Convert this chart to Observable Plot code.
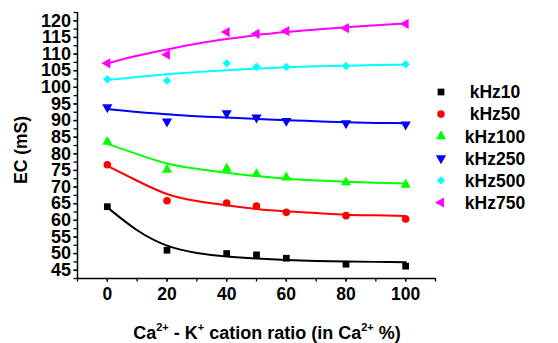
<!DOCTYPE html>
<html>
<head>
<meta charset="utf-8">
<script src="https://cdn.jsdelivr.net/npm/d3@7"></script>
<script src="https://cdn.jsdelivr.net/npm/@observablehq/plot@0.6"></script>
<style>
  html, body { margin: 0; padding: 0; background: #fff; }
  #chart { width: 558px; height: 343px; }
</style>
</head>
<body>
<div id="chart"></div>
<script>
// ---- data ----
const seriesNames = ["kHz10", "kHz50", "kHz100", "kHz250", "kHz500", "kHz750"];
const seriesColors = ["#000000", "#ff0000", "#00ff00", "#0000ff", "#00ffff", "#ff00ff"];
const seriesSymbols = ["square", "circle", "triangle", "triangle", "diamond2", "triangle"];
const seriesRotate = [0, 0, 0, 180, 0, -90];

const ratio = [0, 20, 40, 50, 60, 80, 100];
const kHz10  = [64.1, 51.0, 50.0, 49.6, 48.6, 46.8, 46.2];
const kHz50  = [76.7, 65.9, 65.2, 64.3, 62.4, 61.4, 60.4];
const kHz100 = [83.6, 75.2, 75.5, 73.9, 72.9, 71.4, 70.7];
const kHz250 = [94.0, 89.7, 92.2, 90.9, 89.9, 89.2, 88.8];
const kHz500 = [102.4, 102.0, 107.2, 106.2, 106.1, 106.4, 106.9];
const kHz750 = [107.2, 109.8, 116.6, 116.1, 116.9, 117.8, 119.1];

// fitted curves
const fitX = [0, 10, 20, 30, 40, 50, 60, 70, 80, 90, 100];
const fit10  = [63.9, 57.0, 52.4, 50.2, 49.1, 48.5, 48.1, 47.8, 47.6, 47.5, 47.4];
const fit50  = [76.4, 71.9, 67.9, 65.8, 64.5, 63.4, 62.7, 62.2, 61.7, 61.5, 61.3];
const fit100 = [83.0, 79.9, 77.1, 75.5, 74.3, 73.3, 72.5, 72.0, 71.6, 71.3, 71.1];
const fit250 = [93.5, 92.6, 91.9, 91.3, 90.9, 90.5, 90.1, 89.8, 89.5, 89.3, 89.2];
const fit500 = [102.2, 103.1, 103.9, 104.6, 105.1, 105.6, 106.0, 106.3, 106.5, 106.7, 106.8];
const fit750 = [107.2, 109.5, 111.4, 113.1, 114.5, 115.7, 116.6, 117.4, 118.1, 118.7, 119.2];

const xDomain = [-10, 110];
const yDomain = [42.5, 122.5];
const xTicksMajor = [0, 20, 40, 60, 80, 100];
const xTicksMinor = [-10, 0, 10, 20, 30, 40, 50, 60, 70, 80, 90, 100, 110];
const yTicksMajor = [45, 50, 55, 60, 65, 70, 75, 80, 85, 90, 95, 100, 105, 110, 115, 120];
const yTicksMinor = [42.5, 45, 47.5, 50, 52.5, 55, 57.5, 60, 62.5, 65, 67.5, 70, 72.5, 75, 77.5, 80, 82.5, 85, 87.5, 90, 92.5, 95, 97.5, 100, 102.5, 105, 107.5, 110, 112.5, 115, 117.5, 120, 122.5];

const yTitle = "EC (mS)";

// ---- build tables ----
const pointSeries = [kHz10, kHz50, kHz100, kHz250, kHz500, kHz750];
const fitSeries = [fit10, fit50, fit100, fit250, fit500, fit750];
const points = [];
pointSeries.forEach((vals, i) => vals.forEach((v, j) => points.push({s: seriesNames[i], x: ratio[j], y: v, rot: seriesRotate[i]})));
const fits = [];
fitSeries.forEach((vals, i) => vals.forEach((v, j) => fits.push({s: seriesNames[i], x: fitX[j], y: v})));

const FONT = "'Liberation Sans', Arial, sans-serif";
const R = 3.8;

const svg = Plot.plot({
  width: 558,
  height: 343,
  marginLeft: 77,
  marginRight: 123,
  marginTop: 12,
  marginBottom: 65,
  style: {fontFamily: FONT, fontWeight: "bold", fontSize: "18px", background: "#fff", color: "#000"},
  x: {domain: xDomain},
  y: {domain: yDomain},
  color: {domain: seriesNames, range: seriesColors},
  symbol: {domain: seriesNames, range: seriesSymbols},
  marks: [
    Plot.axisX({ticks: xTicksMinor, tickSize: 3.5, tickFormat: () => "", label: null, strokeWidth: 1.3}),
    Plot.axisX({ticks: xTicksMajor, tickSize: 3.5, tickPadding: 6, label: null, strokeWidth: 1.3, fontSize: 17.5}),
    Plot.axisY({ticks: yTicksMinor, tickSize: 3.5, tickFormat: () => "", label: null, strokeWidth: 1.3}),
    Plot.axisY({ticks: yTicksMajor, tickSize: 3.5, tickPadding: 3, label: null, strokeWidth: 1.3}),
    Plot.ruleX([xDomain[0]], {strokeWidth: 1.5}),
    Plot.ruleY([yDomain[0]], {strokeWidth: 1.5}),
    Plot.line(fits, {x: "x", y: "y", z: "s", stroke: "s", curve: "natural", strokeWidth: 2}),
    Plot.dot(points, {x: "x", y: "y", fill: "s", symbol: "s", rotate: "rot", r: R, stroke: "none"})
  ]
});
document.getElementById("chart").appendChild(svg);

// ---- titles & legend ----
const s = d3.select(svg);
// y title
s.append("text")
  .attr("transform", "translate(27,150) rotate(-90)")
  .attr("text-anchor", "middle")
  .attr("font-family", FONT).attr("font-weight", "bold").attr("font-size", 17.5)
  .text(yTitle);

// x title with superscripts
const xt = s.append("text")
  .attr("x", 267).attr("y", 339)
  .attr("text-anchor", "middle")
  .attr("font-family", FONT).attr("font-weight", "bold").attr("font-size", 18);
const xParts = [["Ca", false], ["2+", true], [" - K", false], ["+", true], [" cation ratio (in Ca", false], ["2+", true], [" %)", false]];
xParts.forEach(([t, sup], i) => {
  const ts = xt.append("tspan").text(t);
  const prevSup = i > 0 && xParts[i - 1][1];
  if (sup) ts.attr("font-size", 11).attr("dy", -8);
  else ts.attr("dy", prevSup ? 8 : 0);
});

// legend
const symMap = {square: d3.symbolSquare, circle: d3.symbolCircle, triangle: d3.symbolTriangle, diamond2: d3.symbolDiamond2};
const lg = s.append("g");
seriesNames.forEach((name, i) => {
  const cy = 92 + i * 22.1;
  lg.append("path")
    .attr("d", d3.symbol(symMap[seriesSymbols[i]], R * R * Math.PI)())
    .attr("transform", `translate(441,${cy}) rotate(${seriesRotate[i]})`)
    .attr("fill", seriesColors[i]);
  lg.append("text")
    .attr("x", 495).attr("y", cy).attr("dy", "0.36em")
    .attr("font-family", FONT).attr("font-weight", "bold").attr("font-size", 17.5)
    .text(name);
});
</script>
</body>
</html>
